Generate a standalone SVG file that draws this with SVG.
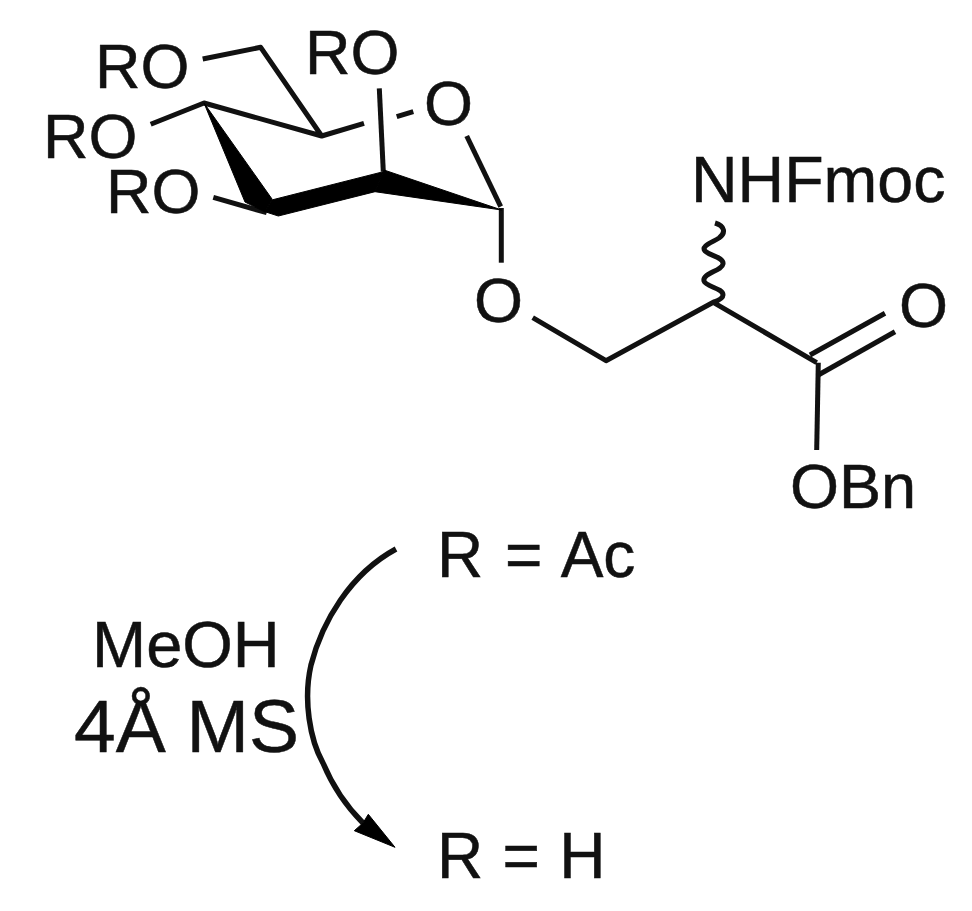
<svg xmlns="http://www.w3.org/2000/svg" width="972" height="911" viewBox="0 0 972 911">
<style>
text{font-family:"Liberation Sans",Arial,sans-serif;font-size:63px;fill:#111;stroke:#111;stroke-width:.5}
.b{fill:none;stroke:#111;stroke-width:5;stroke-linejoin:round}
.w{fill:#000;stroke:#000;stroke-width:1;stroke-linejoin:round}
</style>
<rect width="972" height="911" fill="#fff"/>
<g id="connectors">
<path class="b" d="M202.700 59L260.700 47.300L321.700 136L204 103L150.700 124.300"/>
<path class="b" d="M321.700 136L364 123.300"/>
<path class="b" d="M396.700 116.700L413.300 111.700"/>
<path class="b" d="M379.300 88.300L383.300 171.700"/>
<path class="b" d="M466.700 136L500.700 206.700"/>
<path class="b" d="M501.300 208V262.700"/>
<path class="b" d="M213.300 197.300L266.700 212.700"/>
<polygon class="w" points="204,103 272,199 265,212 245,202"/>
<polygon class="w" points="271.700,200 383.300,171.700 375,191.700 278.300,216 265,211.700"/>
<polygon class="w" points="384,170 501.700,210 375,191.700"/>
<path class="b" d="M532.700 317.700L606 360.700L713.300 302.300L816.700 362.700"/>
<path class="b" d="M810 355L885 313.300"/>
<path class="b" d="M818.300 375L895 331.700"/>
<path class="b" d="M818.300 362.700L816.700 450"/>
<path class="b" d="M715 223C725 226 726 233 719 238C711 243 701 246 705 251C710 256 724 257 723 264C722 271 702 273 704 281C706 287 723 288 723 295C723 299 717 301 713.300 302.300"/>
<path class="b" style="stroke-width:5.500" d="M396 549C350 574 322 622 311 665C303 700 310 740 323 763C333 787 345 805 363 823"/>
<polygon class="w" points="395,847.300 354.300,830.700 363,823 368.300,814.300"/>
</g>
<g id="n-ro-6"><text x="95" y="88">RO</text></g>
<g id="n-ro-2"><text x="305" y="74">RO</text></g>
<g id="n-ro-4"><text x="43" y="158">RO</text></g>
<g id="n-ro-3"><text x="106" y="213">RO</text></g>
<g id="n-ring-o"><text x="424" y="125">O</text></g>
<g id="n-glyco-o"><text x="474" y="322">O</text></g>
<g id="n-nhfmoc"><text x="691" y="202" style="font-size:64.500px">NHFmoc</text></g>
<g id="n-carbonyl-o"><text x="899" y="327">O</text></g>
<g id="n-obn"><text x="790" y="508">OBn</text></g>
<g id="n-r-ac"><text x="437" y="577" style="font-size:64px;word-spacing:4px">R = Ac</text></g>
<g id="n-r-h"><text x="437" y="878" style="font-size:64px;word-spacing:1.500px">R = H</text></g>
<g id="n-meoh"><text x="92" y="667" style="font-size:65px">MeOH</text></g>
<g id="n-ms"><text x="74" y="752" style="font-size:75px">4Å MS</text></g>
</svg>
